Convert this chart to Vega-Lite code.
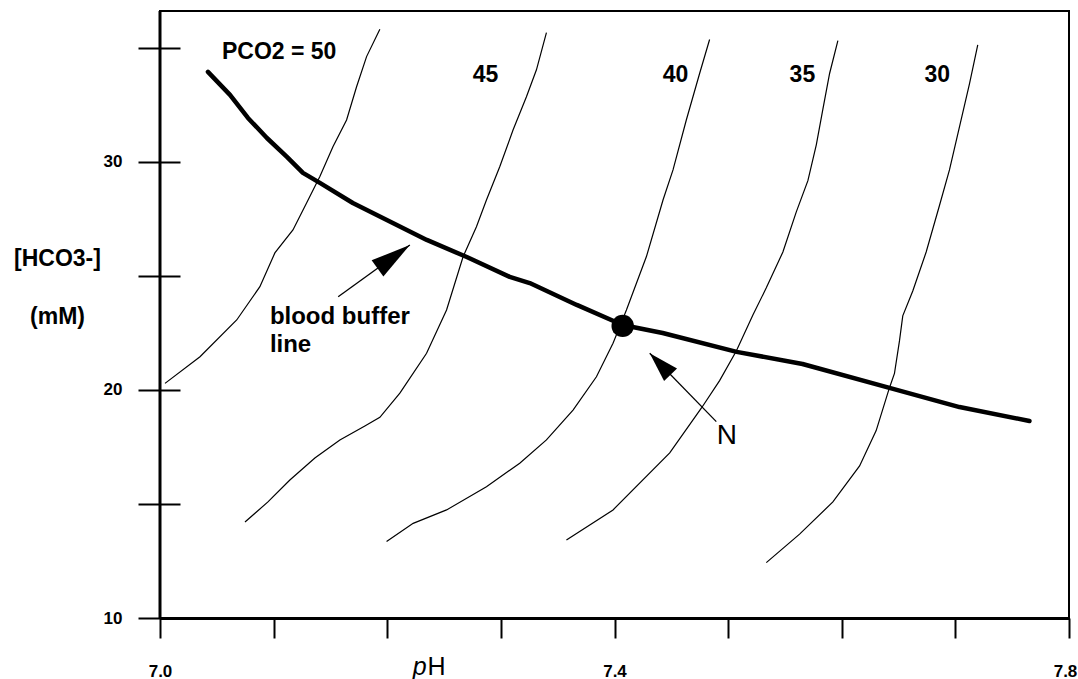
{
  "$schema": "https://vega.github.io/schema/vega-lite/v6.json",
  "width": 909,
  "height": 607,
  "autosize": {"type": "none"},
  "padding": {"left": 160, "top": 11, "right": 9, "bottom": 61},
  "background": "white",
  "config": {"view": {"stroke": "black", "strokeWidth": 2}, "font": "Liberation Sans"},
  "datasets": {
    "buffer": [
      {"ph": 7.0422, "hco3": 33.95}, {"ph": 7.0616, "hco3": 32.94}, {"ph": 7.0774, "hco3": 31.93},
      {"ph": 7.0941, "hco3": 31.05}, {"ph": 7.1117, "hco3": 30.22}, {"ph": 7.1258, "hco3": 29.52},
      {"ph": 7.1407, "hco3": 29.08}, {"ph": 7.1697, "hco3": 28.20}, {"ph": 7.2049, "hco3": 27.32},
      {"ph": 7.2348, "hco3": 26.58}, {"ph": 7.2700, "hco3": 25.83}, {"ph": 7.3078, "hco3": 24.96},
      {"ph": 7.3254, "hco3": 24.69}, {"ph": 7.3668, "hco3": 23.73}, {"ph": 7.4072, "hco3": 22.85},
      {"ph": 7.4424, "hco3": 22.50}, {"ph": 7.5075, "hco3": 21.67}, {"ph": 7.5655, "hco3": 21.14},
      {"ph": 7.6420, "hco3": 20.09}, {"ph": 7.7036, "hco3": 19.25}, {"ph": 7.7652, "hco3": 18.64}
    ],
    "isopleths": [
      {"pco2": 50, "ph": 7.0044, "hco3": 20.29}, {"pco2": 50, "ph": 7.0352, "hco3": 21.46}, {"pco2": 50, "ph": 7.0675, "hco3": 23.07},
      {"pco2": 50, "ph": 7.0879, "hco3": 24.53}, {"pco2": 50, "ph": 7.1011, "hco3": 26.01}, {"pco2": 50, "ph": 7.1170, "hco3": 27.02},
      {"pco2": 50, "ph": 7.1290, "hco3": 28.20}, {"pco2": 50, "ph": 7.1407, "hco3": 29.36}, {"pco2": 50, "ph": 7.1522, "hco3": 30.67},
      {"pco2": 50, "ph": 7.1642, "hco3": 31.84}, {"pco2": 50, "ph": 7.1730, "hco3": 33.30}, {"pco2": 50, "ph": 7.1818, "hco3": 34.62},
      {"pco2": 50, "ph": 7.1935, "hco3": 35.82},
      {"pco2": 45, "ph": 7.0748, "hco3": 14.21}, {"pco2": 45, "ph": 7.0950, "hco3": 15.09}, {"pco2": 45, "ph": 7.1143, "hco3": 16.05},
      {"pco2": 45, "ph": 7.1363, "hco3": 17.02}, {"pco2": 45, "ph": 7.1583, "hco3": 17.81}, {"pco2": 45, "ph": 7.1803, "hco3": 18.42},
      {"pco2": 45, "ph": 7.1935, "hco3": 18.80}, {"pco2": 45, "ph": 7.2111, "hco3": 19.86}, {"pco2": 45, "ph": 7.2346, "hco3": 21.61},
      {"pco2": 45, "ph": 7.2522, "hco3": 23.51}, {"pco2": 45, "ph": 7.2668, "hco3": 25.85}, {"pco2": 45, "ph": 7.2785, "hco3": 27.16},
      {"pco2": 45, "ph": 7.2873, "hco3": 28.33}, {"pco2": 45, "ph": 7.2990, "hco3": 29.79}, {"pco2": 45, "ph": 7.3107, "hco3": 31.40},
      {"pco2": 45, "ph": 7.3225, "hco3": 32.86}, {"pco2": 45, "ph": 7.3313, "hco3": 34.04}, {"pco2": 45, "ph": 7.3401, "hco3": 35.67},
      {"pco2": 40, "ph": 7.1994, "hco3": 13.35}, {"pco2": 40, "ph": 7.2228, "hco3": 14.15}, {"pco2": 40, "ph": 7.2522, "hco3": 14.74},
      {"pco2": 40, "ph": 7.2873, "hco3": 15.76}, {"pco2": 40, "ph": 7.3166, "hco3": 16.79}, {"pco2": 40, "ph": 7.3401, "hco3": 17.81},
      {"pco2": 40, "ph": 7.3635, "hco3": 19.12}, {"pco2": 40, "ph": 7.3841, "hco3": 20.58}, {"pco2": 40, "ph": 7.3987, "hco3": 22.05},
      {"pco2": 40, "ph": 7.4105, "hco3": 23.51}, {"pco2": 40, "ph": 7.4281, "hco3": 25.85}, {"pco2": 40, "ph": 7.4427, "hco3": 28.33},
      {"pco2": 40, "ph": 7.4515, "hco3": 29.65}, {"pco2": 40, "ph": 7.4632, "hco3": 31.84}, {"pco2": 40, "ph": 7.4749, "hco3": 33.88},
      {"pco2": 40, "ph": 7.4837, "hco3": 35.37},
      {"pco2": 35, "ph": 7.3577, "hco3": 13.42}, {"pco2": 35, "ph": 7.3987, "hco3": 14.74}, {"pco2": 35, "ph": 7.4486, "hco3": 17.24},
      {"pco2": 35, "ph": 7.4764, "hco3": 19.20}, {"pco2": 35, "ph": 7.4925, "hco3": 20.41}, {"pco2": 35, "ph": 7.5072, "hco3": 21.71},
      {"pco2": 35, "ph": 7.5218, "hco3": 23.29}, {"pco2": 35, "ph": 7.5336, "hco3": 24.48}, {"pco2": 35, "ph": 7.5482, "hco3": 26.05},
      {"pco2": 35, "ph": 7.5600, "hco3": 27.81}, {"pco2": 35, "ph": 7.5702, "hco3": 29.18}, {"pco2": 35, "ph": 7.5776, "hco3": 30.75},
      {"pco2": 35, "ph": 7.5834, "hco3": 32.32}, {"pco2": 35, "ph": 7.5893, "hco3": 33.88}, {"pco2": 35, "ph": 7.5966, "hco3": 35.32},
      {"pco2": 30, "ph": 7.5336, "hco3": 12.43}, {"pco2": 30, "ph": 7.5629, "hco3": 13.68}, {"pco2": 30, "ph": 7.5922, "hco3": 15.09},
      {"pco2": 30, "ph": 7.6157, "hco3": 16.67}, {"pco2": 30, "ph": 7.6303, "hco3": 18.22}, {"pco2": 30, "ph": 7.6420, "hco3": 20.10},
      {"pco2": 30, "ph": 7.6464, "hco3": 20.73}, {"pco2": 30, "ph": 7.6508, "hco3": 22.15}, {"pco2": 30, "ph": 7.6537, "hco3": 23.25},
      {"pco2": 30, "ph": 7.6625, "hco3": 24.34}, {"pco2": 30, "ph": 7.6743, "hco3": 26.05}, {"pco2": 30, "ph": 7.6860, "hco3": 28.09},
      {"pco2": 30, "ph": 7.6948, "hco3": 29.65}, {"pco2": 30, "ph": 7.7036, "hco3": 31.54}, {"pco2": 30, "ph": 7.7124, "hco3": 33.42},
      {"pco2": 30, "ph": 7.7197, "hco3": 35.13}
    ],
    "axisline": [{"ph": 7.0, "hco3": 10, "hco3_end": 36.62}],
    "arrows": [
      {"arrow": "buffer", "ph": 7.1568, "hco3": 24.09, "ph_tip": 7.2199, "hco3_tip": 26.36},
      {"arrow": "N", "ph": 7.4896, "hco3": 18.61, "ph_tip": 7.4310, "hco3_tip": 21.61}
    ],
    "heads": [
      {"arrow": "buffer", "ph": 7.2199, "hco3": 26.36},
      {"arrow": "N", "ph": 7.4310, "hco3": 21.61}
    ],
    "normal": [{"ph": 7.4072, "hco3": 22.81}],
    "curvelabels": [
      {"label": "PCO2 = 50", "ph": 7.0545, "hco3": 34.82},
      {"label": "45", "ph": 7.2753, "hco3": 33.82},
      {"label": "40", "ph": 7.4424, "hco3": 33.82},
      {"label": "35", "ph": 7.5541, "hco3": 33.82},
      {"label": "30", "ph": 7.6728, "hco3": 33.82}
    ],
    "notes": [
      {"label": "blood buffer", "ph": 7.0967, "hco3": 23.20},
      {"label": "line", "ph": 7.0967, "hco3": 21.97}
    ],
    "nlabel": [{"label": "N", "ph": 7.4899, "hco3": 17.98}],
    "ptitle": [{"label": "p", "ph": 7.2225, "hco3": 7.5}],
    "htitle": [{"label": "H", "ph": 7.2355, "hco3": 7.5}]
  },
  "encoding": {
    "x": {
      "field": "ph", "type": "quantitative",
      "scale": {"domain": [7.0, 7.8], "nice": false, "zero": false},
      "axis": {
        "title": null,
        "values": [7.0, 7.1, 7.2, 7.3, 7.4, 7.5, 7.6, 7.7, 7.8],
        "grid": false,
        "domain": true, "domainColor": "black", "domainWidth": 3,
        "ticks": true, "tickColor": "black", "tickWidth": 2, "tickSize": 20,
        "labelExpr": "(abs(datum.value-7.0)<0.001 || abs(datum.value-7.4)<0.001 || abs(datum.value-7.8)<0.001) ? format(datum.value, '.1f') : ''",
        "labelFont": "Liberation Sans", "labelFontSize": 17, "labelFontWeight": "bold", "labelColor": "black",
        "labelPadding": 25, "labelFlush": false, "labelOverlap": false,
        "labelOffset": {"expr": "datum.value > 7.75 ? -4 : 0"}
      }
    },
    "y": {
      "field": "hco3", "type": "quantitative",
      "scale": {"domain": [10, 36.62], "nice": false, "zero": false},
      "axis": {
        "title": ["[HCO3-]", "(mM)"],
        "titleLineHeight": 58, "titleAngle": 0, "titleAlign": "center", "titleBaseline": "top",
        "titleX": -123, "titleY": 236,
        "titleFont": "Liberation Sans", "titleFontSize": 23, "titleFontWeight": "bold", "titleColor": "black",
        "values": [10, 15, 20, 25, 30, 35],
        "offset": -20,
        "domain": false, "grid": false,
        "ticks": true, "tickColor": "black", "tickWidth": 2, "tickSize": 42,
        "labelExpr": "datum.value % 10 == 0 ? format(datum.value, 'd') : ''",
        "labelFont": "Liberation Sans", "labelFontSize": 17, "labelFontWeight": "bold", "labelColor": "black",
        "labelPadding": 16, "labelOverlap": false
      }
    }
  },
  "layer": [
    {
      "data": {"name": "isopleths"},
      "mark": {"type": "line", "color": "black", "strokeWidth": 1.2},
      "encoding": {"detail": {"field": "pco2", "type": "nominal"}}
    },
    {
      "data": {"name": "buffer"},
      "mark": {"type": "line", "color": "black", "strokeWidth": 4.5, "strokeJoin": "round", "strokeCap": "round"},
      "encoding": {}
    },
    {
      "data": {"name": "axisline"},
      "mark": {"type": "rule", "color": "black", "strokeWidth": 3},
      "encoding": {"y2": {"field": "hco3_end"}}
    },
    {
      "data": {"name": "arrows"},
      "mark": {"type": "rule", "color": "black", "strokeWidth": 1.3},
      "encoding": {"x2": {"field": "ph_tip"}, "y2": {"field": "hco3_tip"}}
    },
    {
      "data": {"name": "heads"},
      "transform": [{"filter": "datum.arrow == 'buffer'"}],
      "mark": {"type": "point", "shape": "M0,0L0.25,1L-0.25,1Z", "size": 6400, "angle": 54, "filled": true, "color": "black", "opacity": 1, "strokeWidth": 0}
    },
    {
      "data": {"name": "heads"},
      "transform": [{"filter": "datum.arrow == 'N'"}],
      "mark": {"type": "point", "shape": "M0,0L0.3,1L-0.3,1Z", "size": 3600, "angle": -44, "filled": true, "color": "black", "opacity": 1, "strokeWidth": 0}
    },
    {
      "data": {"name": "normal"},
      "mark": {"type": "point", "shape": "circle", "size": 500, "filled": true, "color": "black", "opacity": 1}
    },
    {
      "data": {"name": "curvelabels"},
      "mark": {"type": "text", "align": "left", "baseline": "middle", "font": "Liberation Sans", "fontSize": 23, "fontWeight": "bold", "color": "black"},
      "encoding": {"text": {"field": "label"}}
    },
    {
      "data": {"name": "notes"},
      "mark": {"type": "text", "align": "left", "baseline": "middle", "font": "Liberation Sans", "fontSize": 24, "fontWeight": "bold", "color": "black"},
      "encoding": {"text": {"field": "label"}}
    },
    {
      "data": {"name": "nlabel"},
      "mark": {"type": "text", "align": "left", "baseline": "middle", "font": "Liberation Sans", "fontSize": 28, "color": "black"},
      "encoding": {"text": {"field": "label"}}
    },
    {
      "data": {"name": "ptitle"},
      "mark": {"type": "text", "align": "left", "baseline": "alphabetic", "font": "Liberation Sans", "fontSize": 25, "fontStyle": "italic", "color": "black"},
      "encoding": {"text": {"field": "label"}}
    },
    {
      "data": {"name": "htitle"},
      "mark": {"type": "text", "align": "left", "baseline": "alphabetic", "font": "Liberation Sans", "fontSize": 25, "color": "black"},
      "encoding": {"text": {"field": "label"}}
    }
  ]
}
